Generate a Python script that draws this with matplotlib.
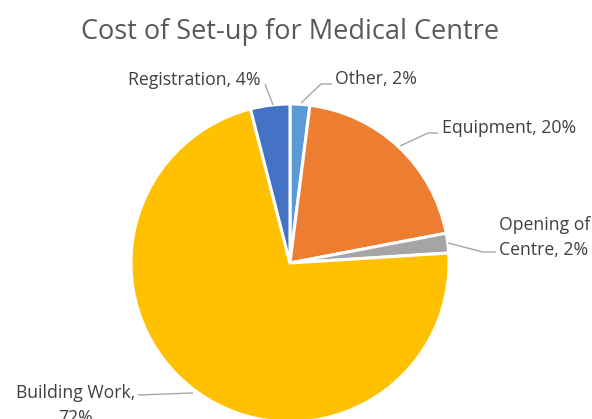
import matplotlib
matplotlib.use("Agg")
import matplotlib.pyplot as plt

categories = ["Other", "Equipment", "Opening of Centre", "Building Work", "Registration"]
values = [2, 20, 2, 72, 4]
label_lines = [["Other, 2%"], ["Equipment, 20%"], ["Opening of", "Centre, 2%"],
               ["Building Work,", "72%"], ["Registration, 4%"]]
colors = ["#5B9BD5", "#ED7D31", "#A5A5A5", "#FFC000", "#4472C4"]
title = "Cost of Set-up for Medical Centre"

W, H = 592, 419
fig = plt.figure(figsize=(W / 100, H / 100), dpi=100)
ax = fig.add_axes([0, 0, 1, 1])

cx, cy, r = 290, H - 263, 159
ax.pie(values, colors=colors, startangle=90, counterclock=False,
       center=(cx, cy), radius=r, frame=True,
       wedgeprops=dict(edgecolor="white", linewidth=2.2))
ax.set_xlim(0, W)
ax.set_ylim(0, H)
ax.set_aspect("equal")
ax.axis("off")

font = "Open Sans"
tc = "#404040"
lc = "#A6A6A6"


def Y(y):
    return H - y


ax.text(290, Y(39), title, ha="center", va="baseline", fontsize=19.5,
        color="#595959", family=font)

# (anchor x, first baseline, ha, leader points)
layout = [
    (335, 84, "left", [(301, 103), (321, 84), (332, 84)]),
    (442, 133, "left", [(400, 146), (428, 133), (438, 133)]),
    (499, 230, "left", [(448, 243), (483, 252), (496, 252)]),
    ((16, 76), 398, ("left", "center"), [(193, 393), (138, 395)]),
    (128, 85, "left", [(273, 105), (265, 84)]),
]
line_gap = 25
for lines, (x, base, ha, pts) in zip(label_lines, layout):
    ax.plot([p[0] for p in pts], [Y(p[1]) for p in pts], color=lc, lw=1.0,
            clip_on=False, solid_capstyle="butt")
    for i, line in enumerate(lines):
        xi = x[i] if isinstance(x, tuple) else x
        hai = ha[i] if isinstance(ha, tuple) else ha
        ax.text(xi, Y(base + i * line_gap), line, ha=hai, va="baseline",
                fontsize=12.7, color=tc, family=font)

fig.savefig("out.png", dpi=100)
